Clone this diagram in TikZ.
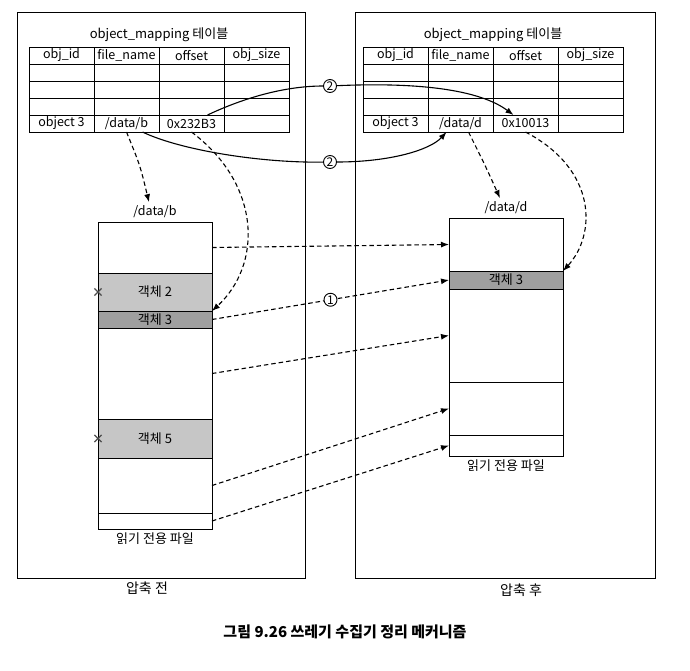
\documentclass[tikz,border=0pt]{standalone}
\usepackage{fontspec}
\setmainfont{Noto Sans CJK KR}
\usetikzlibrary{positioning,arrows.meta,shapes.misc}

\tikzset{
  cell/.style={draw, minimum width=65pt, minimum height=17pt, inner sep=0pt, outer sep=0pt},
  seg/.style={draw, minimum width=114pt, inner sep=0pt, outer sep=0pt, font=\fontsize{13}{15}\selectfont},
  num/.style={circle, draw, solid, fill=white, inner sep=0.4pt, minimum size=13pt, line width=0.9pt, font=\fontsize{12}{13}\selectfont},
  link/.style={dash pattern=on 4.5pt off 3pt, line width=1.1pt, -{Latex[length=8pt,width=6pt]}},
  move/.style={line width=1.1pt, -{Latex[length=8pt,width=6pt]}},
  dead/.style={cross out, draw, minimum size=6pt, inner sep=0pt, line width=1.2pt, gray!60!black},
}

\begin{document}
\begin{tikzpicture}[x=1pt,y=-1pt,line width=1pt,font=\fontsize{12.5}{14}\selectfont]
\useasboundingbox (0,0) rectangle (690,670);
% panels
\draw (17,12) rectangle (305,578);
\draw (355,12) rectangle (655,578);
\node[font=\fontsize{14}{16}\selectfont] (before) at (147,588) {압축 전};
\node[font=\fontsize{14}{16}\selectfont] (after) at (521,590) {압축 후};
\node[font=\bfseries\fontsize{15}{17}\selectfont] (caption) at (345,632) {그림 9.26 쓰레기 수집기 정리 메커니즘};

% left table
\node[font=\fontsize{13}{15}\selectfont] (btitle) at (159,35) {object\_mapping 테이블};
\foreach \t [count=\i] in {obj\_id,file\_name,offset,obj\_size}
  \node[cell] (bh\i) at (-3.5+65*\i,55.5) {\t};
\foreach \r in {1,2,3}
  \foreach \i in {1,...,4}
    \node[cell] (b\r\i) at (-3.5+65*\i,55.5+17*\r) {};
\node[cell] (bobj) at (61.5,123.5) {object 3};
\node[cell] (bfile) at (126.5,123.5) {/data/b};
\node[cell] (boff) at (191.5,123.5) {0x232B3};
\node[cell] (bsize) at (256.5,123.5) {};

% right table
\node[font=\fontsize{13}{15}\selectfont] (dtitle) at (493,35) {object\_mapping 테이블};
\foreach \t [count=\i] in {obj\_id,file\_name,offset,obj\_size}
  \node[cell] (dh\i) at (330.5+65*\i,55.5) {\t};
\foreach \r in {1,2,3}
  \foreach \i in {1,...,4}
    \node[cell] (d\r\i) at (330.5+65*\i,55.5+17*\r) {};
\node[cell] (dobj) at (395.5,123.5) {object 3};
\node[cell] (dfile) at (460.5,123.5) {/data/d};
\node[cell] (doff) at (525.5,123.5) {0x10013};
\node[cell] (dsize) at (590.5,123.5) {};

% file before compaction
\node[seg, minimum height=51pt, anchor=north] (bs1) at (155,222) {};
\node[seg, minimum height=38pt, fill=gray!45, below=0pt of bs1] (bs2) {객체 2};
\node[seg, minimum height=17pt, fill=gray!75, below=0pt of bs2] (bs3) {객체 3};
\node[seg, minimum height=91pt, below=0pt of bs3] (bs4) {};
\node[seg, minimum height=39pt, fill=gray!45, below=0pt of bs4] (bs5) {객체 5};
\node[seg, minimum height=55pt, below=0pt of bs5] (bs6) {};
\node[seg, minimum height=16pt, below=0pt of bs6] (bs7) {};
\node[above=0pt of bs1, font=\fontsize{12.5}{14}\selectfont] (bname) {/data/b};
\node[below=0pt of bs7, font=\fontsize{13}{15}\selectfont] (bro) {읽기 전용 파일};
\node[dead] (bx2) at (bs2.west) {};
\node[dead] (bx5) at (bs5.west) {};

% file after compaction
\node[seg, minimum height=53pt, anchor=north] (ds1) at (506,218) {};
\node[seg, minimum height=18pt, fill=gray!75, below=0pt of ds1] (ds2) {객체 3};
\node[seg, minimum height=93pt, below=0pt of ds2] (ds3) {};
\node[seg, minimum height=53pt, below=0pt of ds3] (ds4) {};
\node[seg, minimum height=21pt, below=0pt of ds4] (ds5) {};
\node[above=0pt of ds1, font=\fontsize{12.5}{14}\selectfont] (dname) {/data/d};
\node[below=0pt of ds5, font=\fontsize{13}{15}\selectfont] (dro) {읽기 전용 파일};

% copied data
\draw[link] (bs1.east) -- (ds1.west);
\draw[link] (bs3.east) -- node[num] (one) {1} (ds2.west);
\draw[link] (bs4.east) -- (ds3.west);
\draw[link] (bs6.east) -- (ds4.west);
\draw[link] (bs7.east) -- (ds5.west);

% table entries point into files
\draw[link] (bfile.south) .. controls (140,165) .. ([xshift=-6pt]bname.north);
\draw[link] (boff.south) .. controls (262,185) and (262,265) .. (bs3.north east);
\draw[link] ([xshift=8pt]dfile.south) .. controls (485,165) .. ([xshift=-6pt]dname.north);
\draw[link] (doff.south) .. controls (598,170) and (596,235) .. (ds2.north east);

% table update
\node[num] (twoa) at (330,86) {2};
\node[num] (twob) at (330,162) {2};
\draw[line width=1.1pt] ([xshift=16pt]boff.north) .. controls (250,95) and (290,86) .. (twoa);
\draw[move] (twoa) .. controls (420,82) and (480,90) .. ([xshift=-12pt]doff.north);
\draw[line width=1.1pt] ([xshift=16pt]bfile.south) .. controls (180,150) and (260,163) .. (twob);
\draw[move] (twob) .. controls (390,162) and (430,150) .. ([xshift=-14pt]dfile.south);
\end{tikzpicture}
\end{document}
